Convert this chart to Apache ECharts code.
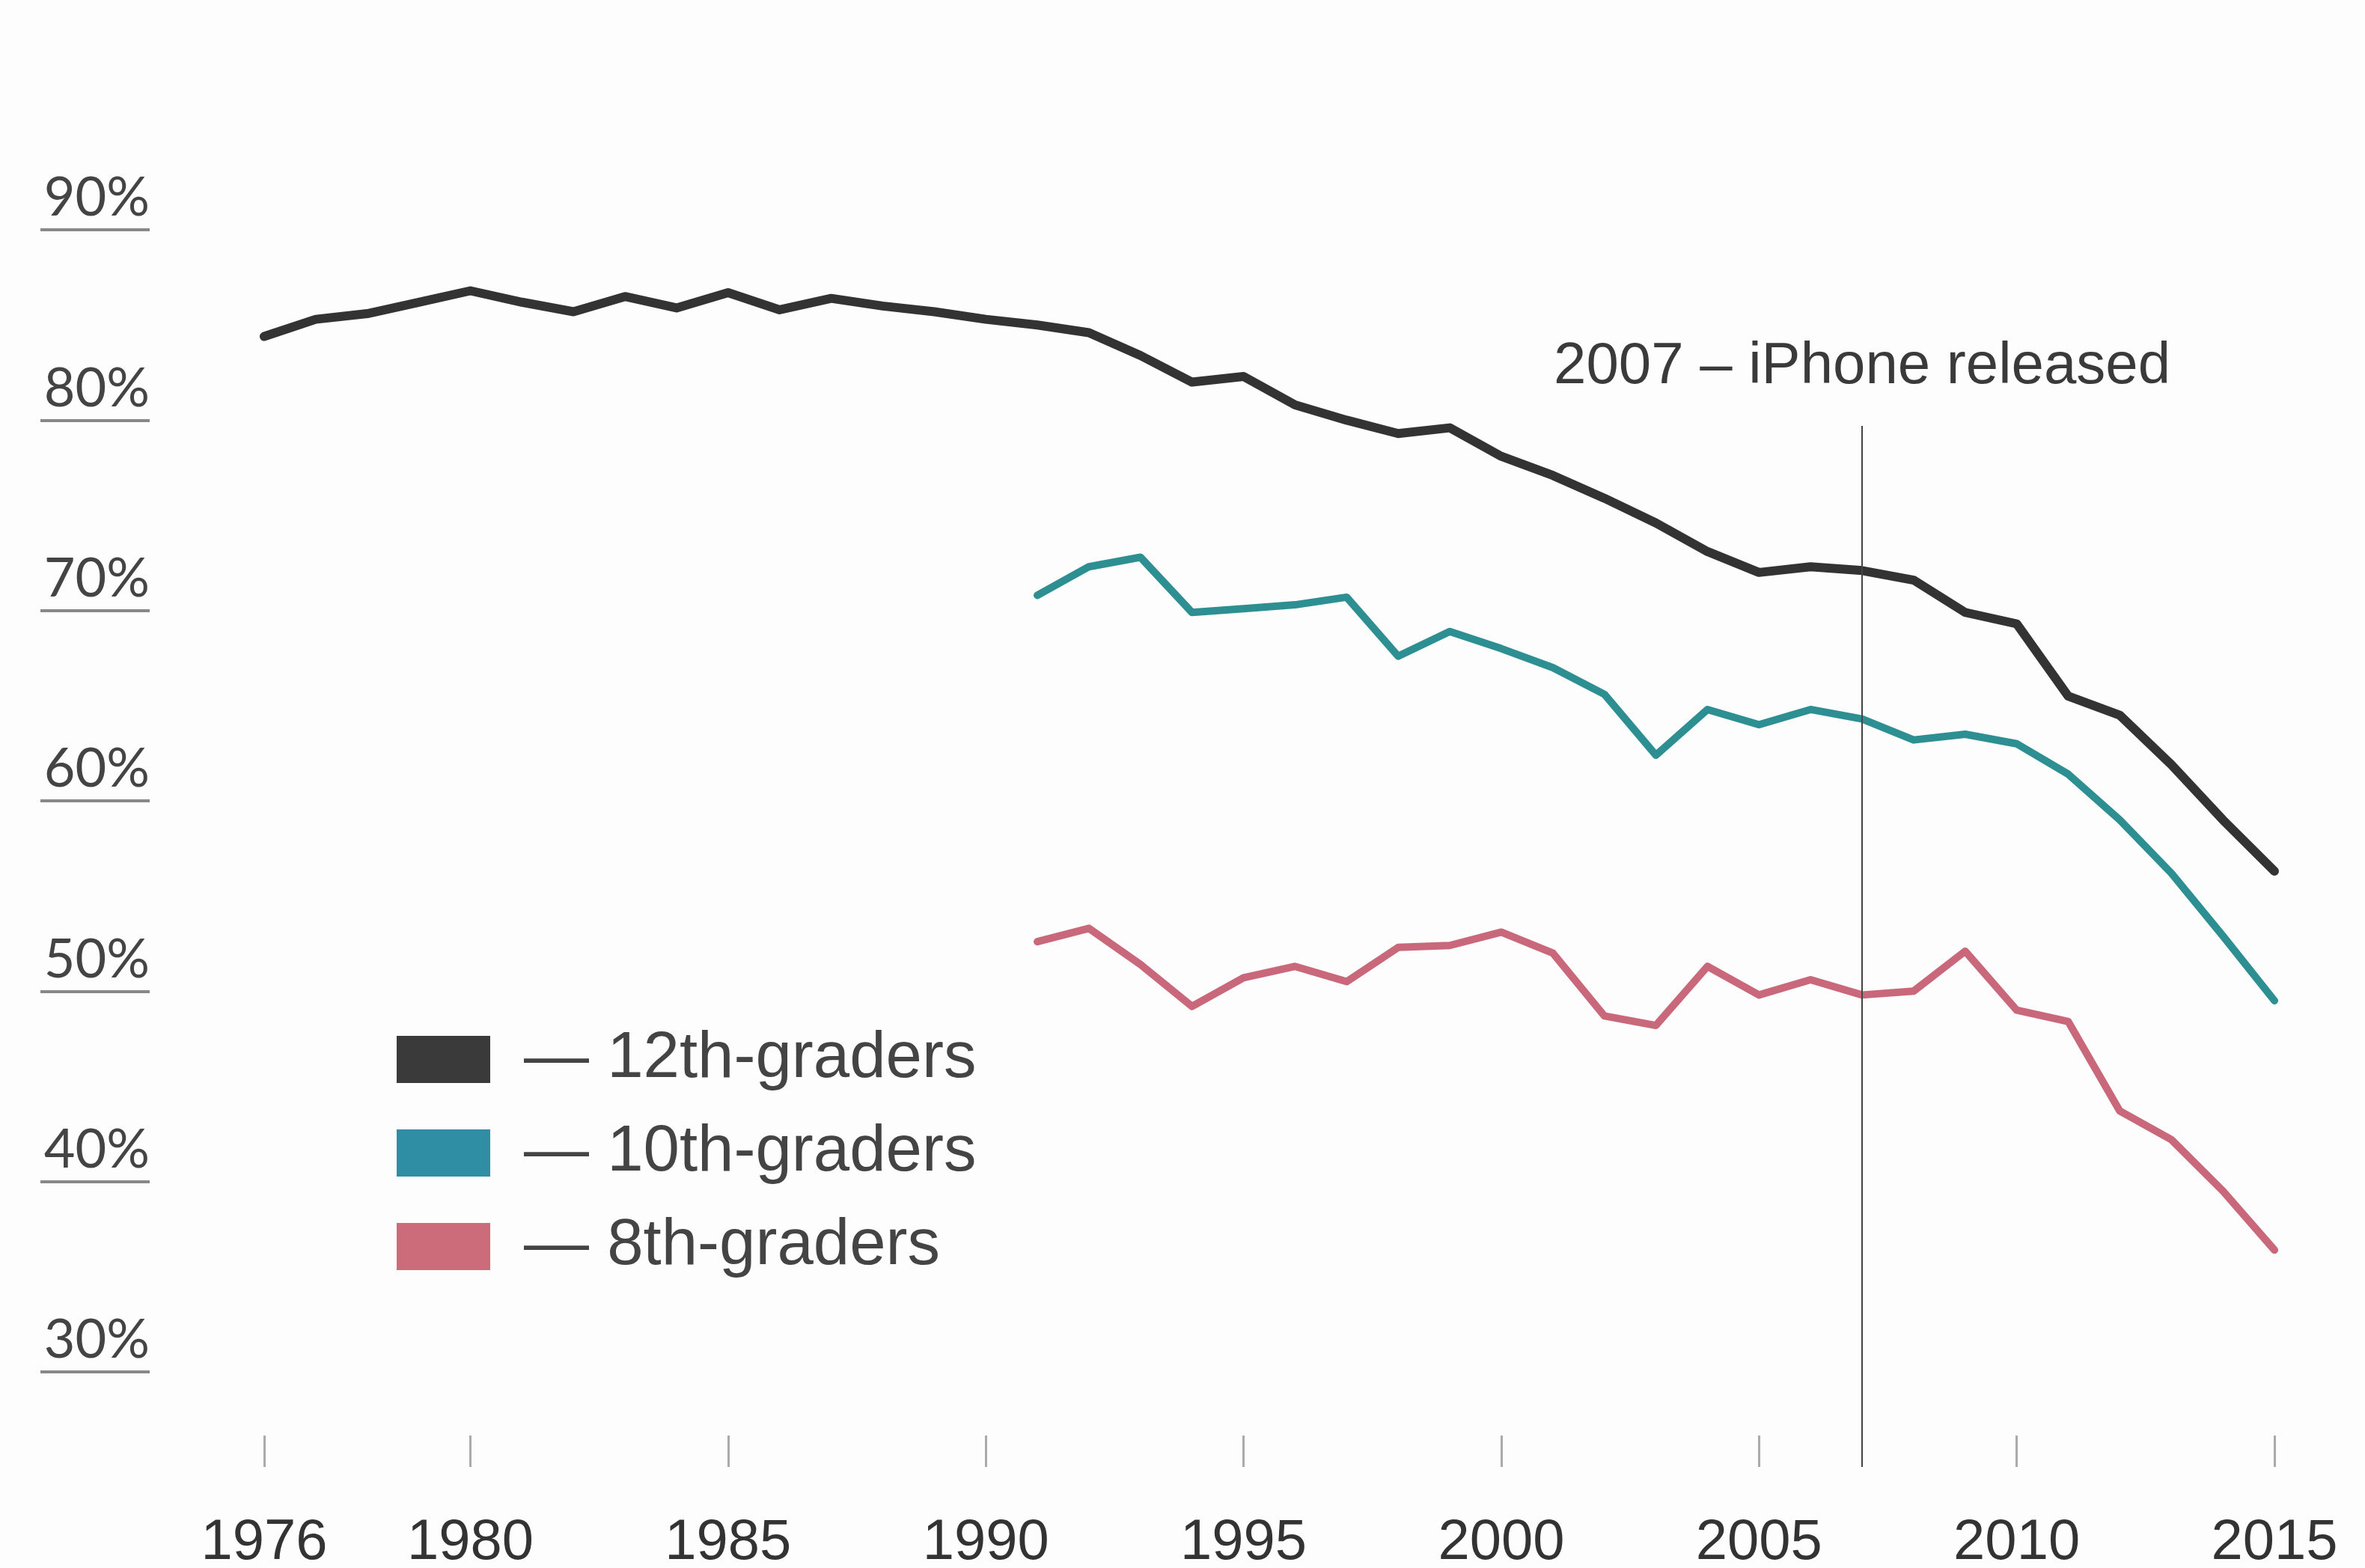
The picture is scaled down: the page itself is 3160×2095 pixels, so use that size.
<!DOCTYPE html>
<html>
<head>
<meta charset="utf-8">
<script src="https://cdn.jsdelivr.net/npm/echarts@6/dist/echarts.min.js"></script>
<style>
html,body{margin:0;padding:0;background:#fdfdfd;}
#chart{width:3160px;height:2095px;}
</style>
</head>
<body>
<div id="chart"></div>
<script>
const years = [1976,1977,1978,1979,1980,1981,1982,1983,1984,1985,1986,1987,1988,1989,1990,1991,1992,1993,1994,1995,1996,1997,1998,1999,2000,2001,2002,2003,2004,2005,2006,2007,2008,2009,2010,2011,2012,2013,2014,2015];
const twelfth = [84.4,85.3,85.6,86.2,86.8,86.2,85.7,86.5,85.9,86.7,85.8,86.4,86.0,85.7,85.3,85.0,84.6,83.4,82.0,82.3,80.8,80.0,79.3,79.6,78.1,77.1,75.9,74.6,73.1,72.0,72.3,72.1,71.6,69.9,69.3,65.5,64.5,61.9,59.0,56.3];
const twelfthStart = 1976;
const tenth = [70.8,72.3,72.8,69.9,70.1,70.3,70.7,67.6,68.9,68.0,67.0,65.6,62.4,64.8,64.0,64.8,64.3,63.2,63.5,63.0,61.4,59.0,56.2,52.9,49.5];
const tenthStart = 1991;
const eighth = [52.6,53.3,51.4,49.2,50.7,51.3,50.5,52.3,52.4,53.1,52.0,48.7,48.2,51.3,49.8,50.6,49.8,50.0,52.1,49.0,48.4,43.7,42.2,39.5,36.4];
const eighthStart = 1991;
const seriesNames = ['12th-graders','10th-graders','8th-graders'];
const xTickYears = [1976,1980,1985,1990,1995,2000,2005,2010,2015];
const yTickValues = [30,40,50,60,70,80,90];
const iphoneYear = 2007;
const iphoneLineTop = 79.7;
const iphoneText = '2007 – iPhone released';

function align(values, start){
  return years.map(y => (y >= start && y - start < values.length) ? values[y - start] : null);
}
const colors = ['#333333','#2e8f92','#c8687a'];
const legendColors = ['#3a3a3a','#2f8ea3','#cc6b7a'];
const showYear = (idx, val) => xTickYears.indexOf(Number(val)) >= 0;

const chart = echarts.init(document.getElementById('chart'), null, {renderer:'canvas'});
chart.setOption({
  animation: false,
  backgroundColor: '#fdfdfd',
  grid: {left: 353, right: 121, top: 180, bottom: 135, containLabel: false, outerBoundsMode: 'none'},
  legend: {
    orient: 'vertical', left: 530, top: 1372, padding: 0,
    itemWidth: 125, itemHeight: 63, itemGap: 38,
    selectedMode: false, icon: 'rect',
    data: seriesNames.map((n, i) => ({name: n, itemStyle: {color: legendColors[i]}})),
    formatter: n => '\u2014 ' + n,
    textStyle: {fontFamily: "'Liberation Sans', Arial, sans-serif", fontSize: 87, color: '#444', padding: [0,0,0,40]}
  },
  xAxis: {
    type: 'category', boundaryGap: false,
    data: years.map(String),
    axisLine: {show: false},
    axisTick: {show: true, inside: true, length: 42, interval: showYear, lineStyle: {color: '#aaa', width: 3}},
    axisLabel: {interval: showYear, margin: 64, fontFamily: "'Liberation Sans', Arial, sans-serif", fontSize: 76, color: '#333'},
    splitLine: {show: false}
  },
  yAxis: {
    type: 'value', min: 25, max: 95, offset: 153,
    axisLine: {show: false},
    splitLine: {show: false},
    axisTick: {show: true, length: 146, customValues: yTickValues, lineStyle: {color: '#888', width: 4}},
    axisLabel: {customValues: yTickValues, formatter: v => v + '%', margin: 0, align: 'right', verticalAlign: 'bottom',
      lineHeight: 72, padding: [0,0,6,0], fontFamily: "Lato, 'Noto Sans', sans-serif", fontSize: 72, color: '#444'}
  },
  series: [
    {name: seriesNames[0], type: 'line', data: align(twelfth, twelfthStart), symbol: 'none', z: 3,
     lineStyle: {color: colors[0], width: 12, join: 'round', cap: 'round'}, itemStyle: {color: colors[0]},
     markLine: {silent: true, symbol: 'none', z: 5,
       lineStyle: {color: '#444', width: 2, type: 'solid'},
       label: {show: true, position: 'end', distance: 40, formatter: iphoneText,
         fontFamily: "'Liberation Sans', Arial, sans-serif", fontSize: 78, color: '#3a3a3a'},
       data: [[{coord: [String(iphoneYear), 25]}, {coord: [String(iphoneYear), iphoneLineTop]}]]}
    },
    {name: seriesNames[1], type: 'line', data: align(tenth, tenthStart), symbol: 'none', z: 2,
     lineStyle: {color: colors[1], width: 10, join: 'round', cap: 'round'}, itemStyle: {color: colors[1]}},
    {name: seriesNames[2], type: 'line', data: align(eighth, eighthStart), symbol: 'none', z: 2,
     lineStyle: {color: colors[2], width: 10, join: 'round', cap: 'round'}, itemStyle: {color: colors[2]}}
  ]
});
</script>
</body>
</html>
